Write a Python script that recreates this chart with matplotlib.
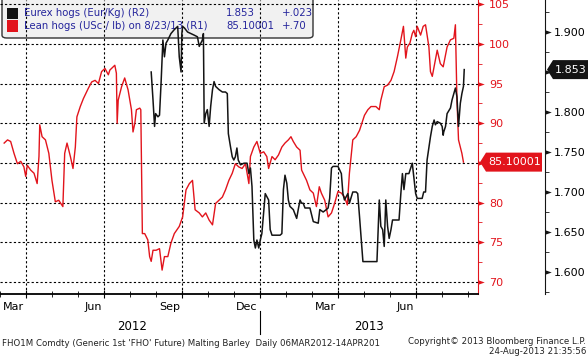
import numpy as np
import matplotlib
matplotlib.use("Agg")
import matplotlib.pyplot as plt
import matplotlib.transforms as mtrans
from matplotlib.path import Path
from matplotlib.patches import Polygon, FancyBboxPatch, Rectangle

# time axis: months since 1 Mar 2012
month_major = [0, 3, 6, 9, 12, 15]
month_labels = ["Mar", "Jun", "Sep", "Dec", "Mar", "Jun"]
month_minor = [m for m in range(-1, 18) if m % 3]
year_labels = ["2012", "2013"]
year_centers = [4.08, 13.2]

# Lean hogs (USc / lb), R1 -- (month, value)
lean_hogs = [
    (-0.84, 87.5), (-0.71, 87.9), (-0.59, 87.7), (-0.46, 86.2), (-0.33, 84.9),
    (-0.20, 85.2), (-0.08, 84.5), (-0.01, 83.3), (0.05, 84.7), (0.18, 84.1),
    (0.31, 83.7), (0.43, 82.4), (0.50, 85.8), (0.53, 89.8), (0.62, 88.3),
    (0.75, 87.9), (0.88, 86.2), (1.00, 82.8), (1.13, 80.1), (1.26, 80.3),
    (1.42, 79.5), (1.49, 86.2), (1.58, 87.5), (1.71, 85.8), (1.81, 84.3),
    (1.90, 87.0), (1.96, 90.8), (2.09, 92.1), (2.21, 93.1), (2.40, 94.4),
    (2.53, 95.2), (2.66, 95.4), (2.79, 95.0), (2.91, 96.5), (3.04, 96.9),
    (3.17, 96.1), (3.23, 96.7), (3.36, 97.1), (3.42, 97.3), (3.48, 96.3),
    (3.51, 90.0), (3.55, 92.9), (3.68, 94.6), (3.80, 95.7), (3.93, 94.2),
    (4.06, 91.7), (4.12, 88.9), (4.19, 90.0), (4.25, 91.7), (4.38, 91.9),
    (4.42, 91.7), (4.48, 76.1), (4.57, 76.1), (4.69, 75.3), (4.76, 73.2),
    (4.82, 72.6), (4.89, 74.0), (5.01, 74.0), (5.14, 74.2), (5.24, 71.5),
    (5.33, 73.2), (5.46, 73.2), (5.58, 74.9), (5.71, 76.1), (5.90, 77.0),
    (6.03, 78.2), (6.16, 81.6), (6.29, 82.4), (6.41, 82.8), (6.51, 79.1),
    (6.67, 78.7), (6.79, 78.2), (6.92, 78.7), (7.05, 77.8), (7.18, 77.2),
    (7.30, 79.9), (7.43, 80.3), (7.56, 80.7), (7.68, 81.6), (7.81, 82.8),
    (7.94, 83.7), (8.06, 84.9), (8.19, 84.5), (8.32, 84.3), (8.45, 84.9),
    (8.58, 82.4), (8.64, 85.8), (8.77, 87.0), (8.89, 87.7), (9.02, 86.2),
    (9.15, 86.4), (9.27, 85.8), (9.34, 84.3), (9.47, 85.8), (9.59, 85.4),
    (9.72, 86.0), (9.85, 87.0), (9.97, 87.5), (10.10, 87.9), (10.20, 88.3),
    (10.29, 87.7), (10.42, 87.0), (10.55, 86.6), (10.61, 84.1), (10.80, 82.8),
    (10.93, 81.6), (11.06, 81.2), (11.18, 79.5), (11.29, 82.0), (11.37, 81.2),
    (11.50, 80.3), (11.63, 78.2), (11.76, 78.7), (11.88, 79.9), (12.01, 81.4),
    (12.14, 81.2), (12.26, 80.7), (12.37, 79.7), (12.45, 83.7), (12.58, 87.9),
    (12.71, 88.3), (12.84, 89.1), (13.03, 91.0), (13.16, 91.7), (13.28, 92.1),
    (13.47, 92.1), (13.60, 91.7), (13.66, 92.9), (13.79, 94.6), (13.92, 94.8),
    (14.05, 95.4), (14.17, 96.5), (14.30, 98.4), (14.43, 100.5), (14.53, 102.2),
    (14.62, 98.2), (14.68, 99.6), (14.78, 100.1), (14.87, 101.3), (14.93, 101.7),
    (15.00, 100.9), (15.06, 102.2), (15.19, 101.1), (15.29, 102.2), (15.38, 102.4),
    (15.51, 99.6), (15.57, 96.5), (15.64, 95.9), (15.71, 97.1), (15.83, 99.2),
    (15.95, 97.5), (16.06, 97.1), (16.21, 99.6), (16.34, 100.5), (16.47, 100.7),
    (16.53, 102.4), (16.59, 92.9), (16.65, 87.9), (16.72, 87.0), (16.78, 86.2),
    (16.84, 85.10001),
]

# Eurex hogs (Eur/Kg), R2 -- (month, value)
eurex_hogs = [
    (4.82, 1.850), (4.89, 1.815), (4.95, 1.782), (4.99, 1.798), (5.08, 1.794),
    (5.14, 1.796), (5.20, 1.836), (5.27, 1.890), (5.33, 1.869), (5.39, 1.886),
    (5.46, 1.890), (5.58, 1.898), (5.71, 1.903), (5.84, 1.907), (5.90, 1.869),
    (5.97, 1.850), (6.00, 1.898), (6.03, 1.907), (6.10, 1.905), (6.22, 1.900),
    (6.35, 1.898), (6.48, 1.896), (6.60, 1.894), (6.67, 1.882), (6.73, 1.886),
    (6.79, 1.890), (6.83, 1.898), (6.86, 1.786), (6.92, 1.798), (6.98, 1.803),
    (7.05, 1.782), (7.11, 1.807), (7.18, 1.828), (7.24, 1.838), (7.30, 1.832),
    (7.43, 1.828), (7.56, 1.825), (7.68, 1.825), (7.75, 1.823), (7.79, 1.773),
    (7.87, 1.757), (7.94, 1.744), (8.00, 1.740), (8.06, 1.744), (8.12, 1.755),
    (8.17, 1.740), (8.26, 1.734), (8.39, 1.736), (8.51, 1.736), (8.58, 1.723),
    (8.64, 1.730), (8.70, 1.707), (8.77, 1.640), (8.83, 1.630), (8.89, 1.640),
    (8.96, 1.630), (9.02, 1.640), (9.08, 1.648), (9.21, 1.698), (9.34, 1.690),
    (9.40, 1.653), (9.47, 1.646), (9.59, 1.646), (9.78, 1.646), (9.85, 1.648),
    (9.91, 1.703), (9.97, 1.721), (10.04, 1.711), (10.10, 1.690), (10.16, 1.682),
    (10.29, 1.678), (10.42, 1.667), (10.48, 1.678), (10.55, 1.690), (10.61, 1.686),
    (10.67, 1.686), (10.74, 1.680), (10.93, 1.680), (11.06, 1.663), (11.25, 1.661),
    (11.31, 1.678), (11.44, 1.675), (11.56, 1.678), (11.63, 1.680), (11.69, 1.692),
    (11.76, 1.730), (11.82, 1.732), (12.01, 1.732), (12.14, 1.723), (12.20, 1.698),
    (12.26, 1.690), (12.39, 1.698), (12.45, 1.686), (12.58, 1.700), (12.71, 1.700),
    (12.77, 1.698), (12.84, 1.669), (12.97, 1.613), (13.51, 1.613), (13.60, 1.690),
    (13.66, 1.657), (13.73, 1.653), (13.79, 1.632), (13.85, 1.690), (13.92, 1.657),
    (13.98, 1.642), (14.05, 1.653), (14.11, 1.665), (14.36, 1.665), (14.43, 1.698),
    (14.49, 1.723), (14.55, 1.703), (14.62, 1.723), (14.74, 1.723), (14.87, 1.736),
    (14.93, 1.719), (15.00, 1.698), (15.06, 1.692), (15.25, 1.692), (15.31, 1.700),
    (15.38, 1.700), (15.44, 1.740), (15.57, 1.769), (15.64, 1.782), (15.71, 1.790),
    (15.76, 1.784), (15.83, 1.788), (15.95, 1.786), (16.02, 1.782), (16.06, 1.771),
    (16.08, 1.775), (16.15, 1.782), (16.21, 1.798), (16.34, 1.805), (16.40, 1.815),
    (16.47, 1.823), (16.53, 1.830), (16.59, 1.819), (16.65, 1.782), (16.72, 1.811),
    (16.78, 1.823), (16.84, 1.832), (16.87, 1.853),
]

r1_major = [70, 75, 80, 85, 90, 95, 100, 105]
r1_minor = [72.5, 77.5, 82.5, 87.5, 92.5, 97.5, 102.5]
r2_major = [1.60, 1.65, 1.70, 1.75, 1.80, 1.85, 1.90]
r2_minor = [1.575, 1.625, 1.675, 1.725, 1.775, 1.825, 1.875, 1.925]

legend_rows = [
    ("Eurex hogs (Eur/Kg) (R2)", "1.853", "+.023"),
    ("Lean hogs (USc / lb) on 8/23/13 (R1)", "85.10001", "+.70"),
]

RED = "#e2141c"
BLACK = "#141414"
BLUE = "#25259c"
W, H = 588, 356

plt.rcParams["font.family"] = "DejaVu Sans"

fig = plt.figure(figsize=(W / 100, H / 100), dpi=100)
ax = fig.add_axes([0, 62 / H, 478 / W, 294 / H])
ax2 = ax.twinx()

ax.set_xlim(-0.84, 17.40)
ax.set_ylim(68.49, 105.52)
ax2.set_ylim(1.5725, 1.94)

rt, rv = zip(*lean_hogs)
bt, bv = zip(*eurex_hogs)
ax.plot(rt, rv, color=RED, lw=1.0, zorder=3)
ax2.plot(bt, bv, color=BLACK, lw=1.1, zorder=3)

# grid + x axis
ax.set_xticks(month_major)
ax.set_xticks(month_minor, minor=True)
ax.set_yticks(r1_major)
ax.set_yticks(r1_minor, minor=True)
ax.grid(True, which="major", color="k", ls=(0, (2, 2)), lw=0.8)
ax.tick_params(axis="x", which="major", direction="inout", length=6, labelbottom=False)
ax.tick_params(axis="x", which="minor", direction="inout", length=4)

for sp in ["left", "top"]:
    ax.spines[sp].set_visible(False)
ax.spines["bottom"].set_linewidth(1.3)
ax.spines["right"].set_color(RED)

last_red = lean_hogs[-1][1]
last_black = eurex_hogs[-1][1]

# R1 axis (red); the label under the value tag stays hidden
ax.yaxis.tick_right()
ax.tick_params(axis="y", which="major", length=0, pad=8, labelcolor=RED, labelsize=8)
ax.tick_params(axis="y", which="minor", direction="out", length=3, color=RED)
ax.set_yticklabels(["" if abs(v - last_red) < 1.5 else str(v) for v in r1_major])

# R2 axis (black)
for sp in ["left", "top", "bottom"]:
    ax2.spines[sp].set_visible(False)
ax2.spines["right"].set_position(("axes", 545 / 478))
ax2.spines["right"].set_color(BLACK)
ax2.set_yticks(r2_major)
ax2.set_yticks(r2_minor, minor=True)
ax2.set_yticklabels(["" if abs(v - last_black) < 0.015 else f"{v:.3f}"
                     for v in r2_major])
ax2.tick_params(axis="y", which="major", length=0, pad=6, labelsize=8)
ax2.tick_params(axis="y", which="minor", direction="out", length=3, color=BLACK)

# arrow tick marks
arrow = Path([(0, -0.35), (0, 0.35), (1, 0), (0, -0.35)],
             [Path.MOVETO, Path.LINETO, Path.LINETO, Path.CLOSEPOLY])
tr1 = mtrans.blended_transform_factory(ax.transAxes, ax.transData)
tr2 = mtrans.blended_transform_factory(ax2.transAxes, ax2.transData)
ax.plot(np.ones(len(r1_major)), r1_major, ls="none", marker=arrow, ms=9, mew=0,
        color=RED, transform=tr1, clip_on=False, zorder=4)
ax2.plot(np.full(len(r2_major), 545 / 478), r2_major, ls="none", marker=arrow, ms=9,
         mew=0, color=BLACK, transform=tr2, clip_on=False, zorder=4)

# month / year labels
trx = mtrans.blended_transform_factory(ax.transData, ax.transAxes)
for m, name in zip(month_major, month_labels):
    ax.annotate(name, xy=(m, 0), xycoords=trx, xytext=(-1.5, -6),
                textcoords="offset points", ha="right", va="top", fontsize=8)
for c, name in zip(year_centers, year_labels):
    ax.text(c, -(326 - 294) / 294, name, transform=trx, ha="center", va="center",
            fontsize=8.5)
ax.plot([9, 9], [-(311 - 294) / 294, -(334 - 294) / 294], transform=trx,
        color="k", lw=0.8, clip_on=False)

# legend box (lines are drawn over it, as in the terminal chart)
ax.add_patch(FancyBboxPatch((2 / W, 1 - 38 / H), 311 / W, 46 / H,
                            boxstyle="round,pad=0,rounding_size=0.008",
                            transform=fig.transFigure, fc="#f1f1f1", ec="#333333",
                            lw=1, zorder=1, clip_on=False))
for i, ((name, val, chg), col) in enumerate(zip(legend_rows, [BLACK, RED])):
    yc = 13.5 + 12.5 * i
    ax.add_patch(Rectangle((7 / W, 1 - (yc + 5.5) / H), 11 / W, 11 / H, fc=col,
                           ec="none", transform=fig.transFigure, zorder=2,
                           clip_on=False))
    for x, s in [(24, name), (226, val), (282, chg)]:
        ax.text(x / W, 1 - yc / H, s, transform=fig.transFigure, color=BLUE,
                fontsize=7.3, va="center", ha="left", zorder=2)


def add_tag(axis, x_axes, value, label, color, width):
    x0, y0 = mtrans.blended_transform_factory(axis.transAxes, axis.transData).transform(
        (x_axes, value))
    x0 += 2
    h, tip = 9.5, 6
    verts = [(x0, y0), (x0 + tip, y0 + h), (x0 + width, y0 + h),
             (x0 + width, y0 - h), (x0 + tip, y0 - h)]
    fig.add_artist(Polygon(verts, closed=True, transform=mtrans.IdentityTransform(),
                           fc=color, ec="none", zorder=5))
    fig.text((x0 + tip + 2) / W, y0 / H, label, color="white", fontsize=8,
             ha="left", va="center", zorder=6)


add_tag(ax, 1.0, last_red, "85.10001", RED, 62)
add_tag(ax2, 545 / 478, last_black, "1.853", BLACK, 46)

# footer
fig.text(2 / W, (H - 343) / H,
         "FHO1M Comdty (Generic 1st 'FHO' Future) Malting Barley  Daily 06MAR2012-14APR201",
         fontsize=6.2, color="#222222", va="center", ha="left")
fig.text(586 / W, (H - 342) / H, "Copyright\u00a9 2013 Bloomberg Finance L.P.",
         fontsize=6.2, color="#222222", va="center", ha="right")
fig.text(586 / W, (H - 351) / H, "24-Aug-2013 21:35:56",
         fontsize=6.2, color="#222222", va="center", ha="right")

fig.savefig("out.png", dpi=100)
